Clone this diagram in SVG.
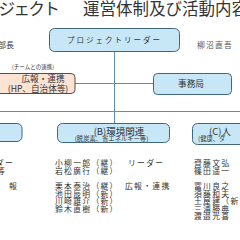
<svg xmlns="http://www.w3.org/2000/svg" width="240" height="240" viewBox="0 0 240 240">
<style>
text{font-family:"Noto Sans CJK JP","Noto Sans",sans-serif;fill:#333}
.bx{fill:#c8e7f6;stroke:#41677f;stroke-width:1}
.pk{fill:#fde3d4;stroke:#5b4b44;stroke-width:1}
.ln{stroke:#5d8fb1;stroke-width:1;fill:none}
.m{font-size:8.6px}
.r{font-size:7.8px;letter-spacing:1.3px}
</style>
<rect width="240" height="240" fill="#fff"/>
<text y="15" font-size="16.5"><tspan x="-1.5" letter-spacing="-1.5">ジェクト</tspan><tspan x="83">運営体制及び活動内容</tspan></text>
<text x="-2" y="48" font-size="8">部長</text>
<text x="197" y="48" font-size="7.8" letter-spacing="1.2" style="fill:#555">柳沼直吾</text>
<g id="connectors">
<line class="ln" x1="114.5" y1="52" x2="114.5" y2="123"/>
<line class="ln" x1="75" y1="83.5" x2="153" y2="83.5"/>
<line class="ln" x1="0" y1="111.5" x2="240" y2="111.5"/>
</g>
<g id="leader">
<rect class="bx" x="49.5" y="28.5" width="130" height="23" rx="5"/>
<text x="114.5" y="43" font-size="7.5" letter-spacing="2" text-anchor="middle">プロジェクトリーダー</text>
</g>
<g id="pr">
<text x="33" y="69" font-size="5.5" text-anchor="middle">(チームとの連携)</text>
<rect class="pk" x="-4" y="73.5" width="79" height="20" rx="4"/>
<text x="43" y="82" class="m" text-anchor="middle">広報・連携</text>
<text x="38" y="91.5" class="m" text-anchor="middle">(HP、自治体等)</text>
</g>
<g id="office">
<rect class="bx" x="153.5" y="73.5" width="78" height="21" rx="4"/>
<text x="191" y="87" class="m" text-anchor="middle">事務局</text>
</g>
<g id="teamA">
<rect class="bx" x="-40" y="123.5" width="62" height="18" rx="5"/>
<text x="14" y="166" class="r" text-anchor="end">ダー</text>
<text x="6" y="174" class="r" text-anchor="end">等</text>
<text x="18" y="189" class="r" text-anchor="end">報</text>
</g>
<g id="teamB">
<rect class="bx" x="57.5" y="123.5" width="112" height="19" rx="5"/>
<text x="119" y="135" font-size="9.5" text-anchor="middle">(B)環境関連</text>
<text x="111.5" y="141" font-size="6.3" text-anchor="middle">(脱炭素、省エネルギー等)</text>
<text x="55" y="166" class="r">小柳一郎（継）<tspan x="128">リーダー</tspan></text>
<text x="55" y="174" class="r">岩松廣行（継）</text>
<text x="55" y="189" class="r">栗本泰治（継）<tspan x="125">広報・連携</tspan></text>
<text x="55" y="196.5" class="r">池田辰明（新）</text>
<text x="55" y="204" class="r">川崎雄介（新）</text>
<text x="55" y="211.5" class="r">鈴木直樹（新）</text>
</g>
<g id="teamC">
<rect class="bx" x="192.5" y="123.5" width="80" height="21" rx="5"/>
<text x="209" y="135" font-size="9.5">(C)人</text>
<text x="198" y="141" font-size="6.3">(健康、ダ</text>
<text x="194" y="166" class="r">齊藤文弘</text>
<text x="194" y="174" class="r">篠田遥一</text>
<text x="194" y="189" class="r">冨川良之</text>
<text x="194" y="196.5" class="r">須藤和夫</text>
<text x="194" y="204" class="r">土屋建（新）</text>
<text x="194" y="211.5" class="r">三浦勝典</text>
<text x="194" y="219" class="r">渡邉光喜</text>
</g>
</svg>
